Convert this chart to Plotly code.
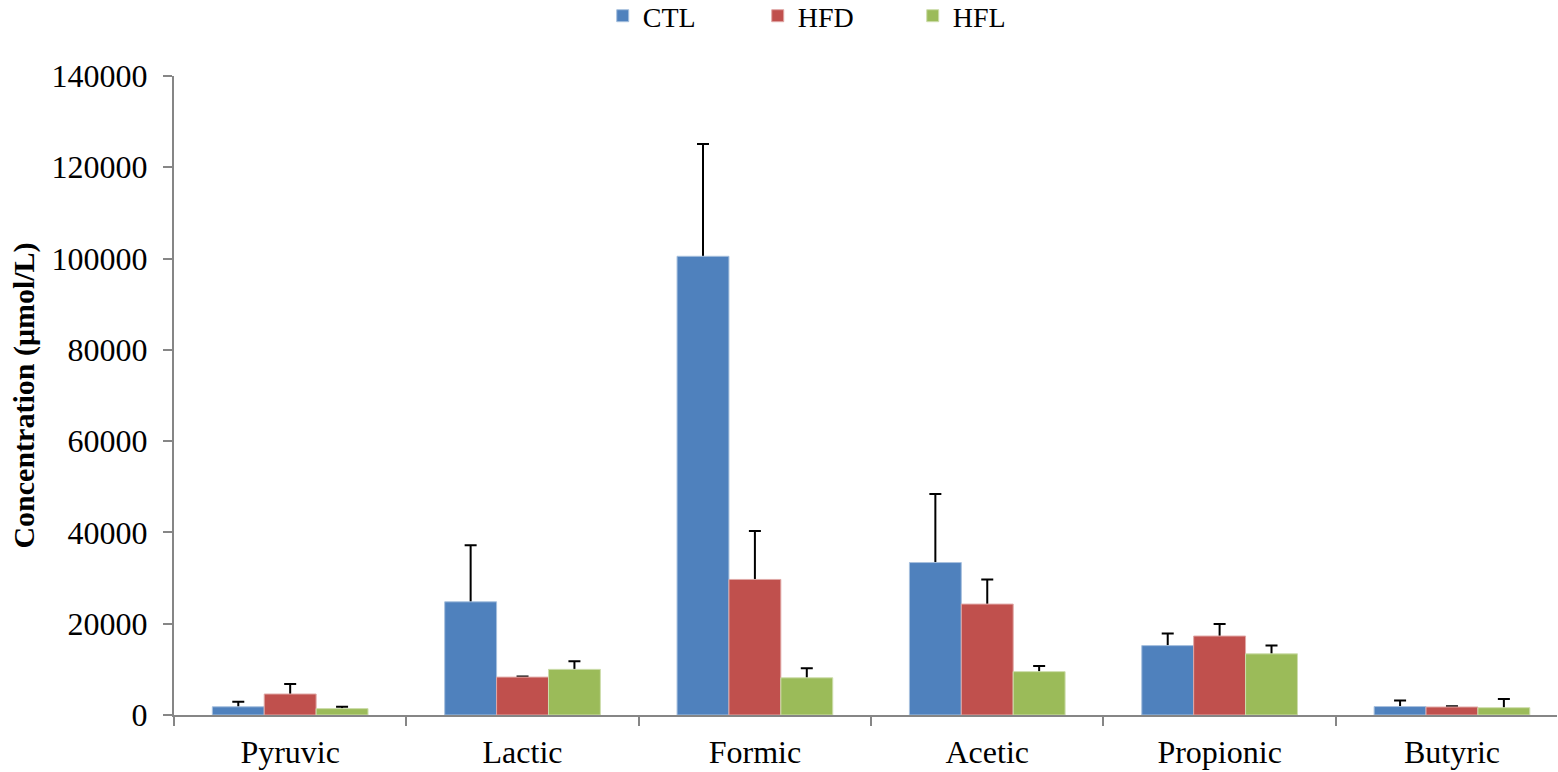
import plotly.graph_objects as go

categories = ["Pyruvic", "Lactic", "Formic", "Acetic", "Propionic", "Butyric"]
ctl = [1800, 24800, 100500, 33400, 15200, 1850]
ctl_err = [1100, 12400, 24600, 15000, 2650, 1300]
hfd = [4600, 8300, 29700, 24300, 17300, 1750]
hfd_err = [2200, 150, 10600, 5400, 2650, 150]
hfl = [1400, 10000, 8150, 9500, 13400, 1600]
hfl_err = [400, 1750, 2100, 1250, 1800, 1900]
y_ticks = [0, 20000, 40000, 60000, 80000, 100000, 120000, 140000]

series = [
    ("CTL", ctl, ctl_err, "#4F81BD", "#A7C0DE"),
    ("HFD", hfd, hfd_err, "#C0504D", "#E0A8A6"),
    ("HFL", hfl, hfl_err, "#9BBB59", "#CDDDAC"),
]

FONT = "Liberation Serif, Times New Roman, serif"
XR = [-0.5, 5.452]
YR = [0, 140000]

fig = go.Figure()
# Error bars (drawn on the base subplot, underneath the bars, so only the upper part shows)
for name, vals, errs, col, edge in series:
    fig.add_trace(go.Scatter(
        name=name + " err", x=categories, y=vals, mode="markers",
        offsetgroup=name, showlegend=False, hoverinfo="skip",
        marker=dict(size=1, color="rgba(0,0,0,0)"),
        error_y=dict(type="data", array=errs, arrayminus=vals, symmetric=False,
                     color="black", thickness=2, width=6),
        xaxis="x", yaxis="y",
    ))
# Bars on an overlaying subplot (drawn above)
for name, vals, errs, col, edge in series:
    fig.add_trace(go.Bar(
        name=name, x=categories, y=vals, offsetgroup=name,
        marker=dict(color=col, line=dict(color=edge, width=1)),
        xaxis="x2", yaxis="y2",
    ))

fig.update_layout(
    width=1558, height=772,
    margin=dict(l=174, r=1, t=76, b=57, autoexpand=False),
    paper_bgcolor="white", plot_bgcolor="white",
    barmode="group", bargap=0.33, bargroupgap=0,
    scattermode="group", scattergap=0.33,
    font=dict(family=FONT, size=32, color="black"),
    showlegend=True,
    legend=dict(orientation="h", x=0.31, y=1.133, xanchor="left", yanchor="top",
                font=dict(family=FONT, size=28, color="black"),
                entrywidth=110, entrywidthmode="pixels", itemwidth=30,
                bgcolor="rgba(0,0,0,0)"),
    xaxis=dict(range=XR, visible=False),
    yaxis=dict(range=YR, visible=False),
    xaxis2=dict(
        range=XR, overlaying="x", anchor="y2",
        showline=True, linecolor="#868686", linewidth=2,
        ticks="outside", tickson="boundaries", ticklen=9, tickwidth=2, tickcolor="#868686",
        showgrid=False, zeroline=False,
        tickfont=dict(family=FONT, size=32, color="black"),
        ticklabelstandoff=8,
    ),
    yaxis2=dict(
        range=YR, overlaying="y", anchor="x2", side="left",
        tickvals=y_ticks, ticktext=[str(v) for v in y_ticks],
        showline=True, linecolor="#868686", linewidth=2,
        ticks="outside", ticklen=9, tickwidth=2, tickcolor="#868686",
        showgrid=False, zeroline=False,
        tickfont=dict(family=FONT, size=32, color="black"),
        ticklabelstandoff=9,
        title=dict(text="<b>Concentration (μmol/L)</b>",
                   font=dict(family=FONT, size=30, color="black"), standoff=8),
    ),
)

fig.write_html("out.html")
